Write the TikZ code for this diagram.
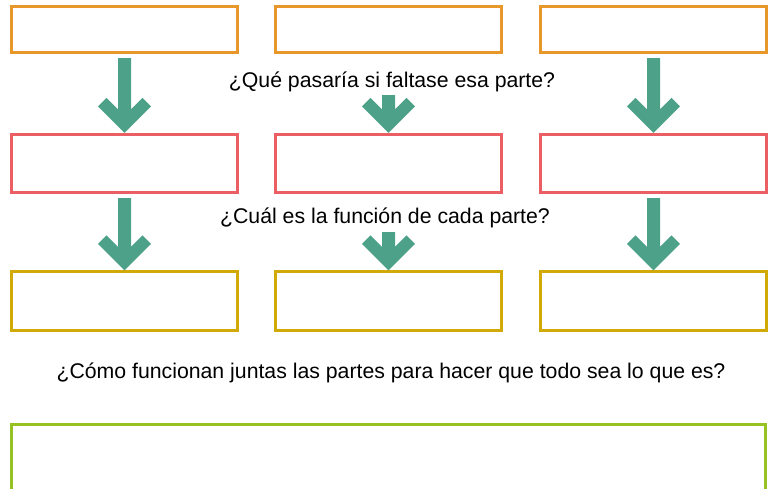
\documentclass[tikz,border=0pt]{standalone}
\usepackage{fontspec}
\setmainfont{Liberation Sans}
\usetikzlibrary{calc}

\definecolor{naranja}{RGB}{232,152,42}
\definecolor{rojo}{RGB}{234,94,100}
\definecolor{mostaza}{RGB}{210,170,8}
\definecolor{lima}{RGB}{150,194,36}
\definecolor{verde}{RGB}{76,161,136}

\tikzset{
  caja/.style={draw, line width=1.5pt, minimum width=4.53cm, minimum height=1.17cm, inner sep=0pt},
  pregunta/.style={font=\fontsize{12.1}{14}\selectfont, inner xsep=3pt, inner ysep=0pt},
  flecha/.style={fill=verde}
}

% thick down arrow from box #1 to box #2
\newcommand\flecha[2]{%
  \fill[flecha] (#2.north) -- ++(-26.5,-26.5) -- ++(8.5,-8.5) -- ++(11.5,11.5)
    -- ($(#2.north |- #1.south)+(-6.5,4)$) -- ++(13,0)
    -- ($(#2.north)+(6.5,-23.5)$) -- ++(11.5,-11.5) -- ++(8.5,8.5) -- cycle;}

\begin{document}
\begin{tikzpicture}[x=0.02cm, y=-0.02cm]
\clip (0,0) rectangle (768,488);

% Top row
\node[caja, naranja, minimum height=0.93cm] (a1) at (124.5,29.5) {};
\node[caja, naranja, minimum height=0.93cm] (a2) at (388.5,29.5) {};
\node[caja, naranja, minimum height=0.93cm] (a3) at (653.5,29.5) {};

% Middle row
\node[caja, rojo] (b1) at (124.5,163.5) {};
\node[caja, rojo] (b2) at (388.5,163.5) {};
\node[caja, rojo] (b3) at (653.5,163.5) {};

% Bottom row
\node[caja, mostaza] (c1) at (124.5,301) {};
\node[caja, mostaza] (c2) at (388.5,301) {};
\node[caja, mostaza] (c3) at (653.5,301) {};

% Arrows
\flecha{a1}{b1}
\flecha{a2}{b2}
\flecha{a3}{b3}
\flecha{b1}{c1}
\flecha{b2}{c2}
\flecha{b3}{c3}

% Questions
\node[pregunta, anchor=base, fill=white, text height=0.62cm, text depth=0.16cm] (q1) at (392,87) {¿Qué pasaría si faltase esa parte?};
\node[pregunta, anchor=base, fill=white, text height=0.54cm, text depth=0.18cm] (q2) at (385,223) {¿Cuál es la función de cada parte?};
\node[pregunta, anchor=base] (q3) at (391,378) {¿Cómo funcionan juntas las partes para hacer que todo sea lo que es?};

% Big box
\node[draw, lima, line width=1.5pt, minimum width=15.08cm, minimum height=2cm, anchor=north] (todo) at (388.5,423.3) {};
\end{tikzpicture}
\end{document}
